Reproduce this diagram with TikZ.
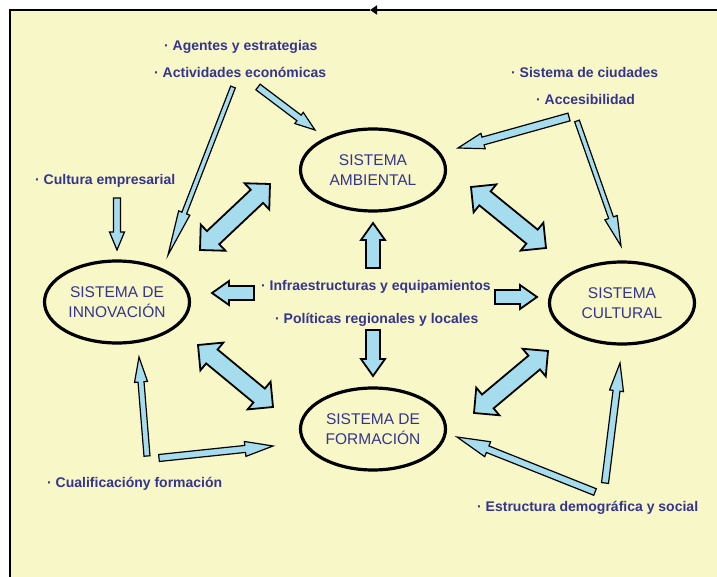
\documentclass[tikz,border=0pt]{standalone}
\usepackage{fontspec}
\setmainfont{Liberation Sans}
\usetikzlibrary{calc,arrows.meta,shapes.geometric}
\definecolor{fondo}{HTML}{F8F7C8}
\definecolor{flecha}{HTML}{A6DDEE}
\definecolor{texto}{HTML}{35358E}
\tikzset{
  sistema/.style={ellipse,draw=black,line width=3.2pt,minimum width=145,minimum height=82,
    inner sep=0pt,align=center,text=texto,font=\fontsize{15.5}{20}\selectfont},
  rotulo/.style={anchor=west,inner sep=0pt,text=texto,font=\bfseries\fontsize{14}{16}\selectfont},
  bloque/.style={fill=flecha,draw=black,line width=1.8pt,line join=miter},
  fina/.style={fill=flecha,draw=black,line width=1.2pt,line join=miter}
}
% #1 style, #2 from, #3 to, #4 shaft half width, #5 head half width, #6 head length
\newcommand{\flecha}[6]{
  \coordinate (hb) at ($(#3)!#6!(#2)$);
  \path[#1] ($(#2)!#4!90:(#3)$) -- ($(hb)!#4!-90:(#2)$) -- ($(hb)!#5!-90:(#2)$) -- (#3)
    -- ($(hb)!#5!90:(#2)$) -- ($(hb)!#4!90:(#2)$) -- ($(#2)!#4!-90:(#3)$) -- cycle;
}
\newcommand{\dobleflecha}[6]{
  \coordinate (ha) at ($(#2)!#6!(#3)$);
  \coordinate (hb) at ($(#3)!#6!(#2)$);
  \path[#1] (#2) -- ($(ha)!#5!90:(#3)$) -- ($(ha)!#4!90:(#3)$) -- ($(hb)!#4!-90:(#2)$)
    -- ($(hb)!#5!-90:(#2)$) -- (#3) -- ($(hb)!#5!90:(#2)$) -- ($(hb)!#4!90:(#2)$)
    -- ($(ha)!#4!-90:(#3)$) -- ($(ha)!#5!-90:(#3)$) -- cycle;
}

\begin{document}
\begin{tikzpicture}[x=1pt,y=-1pt]
  \useasboundingbox (0,0) rectangle (717,577);
  \fill[white] (0,0) rectangle (717,577);
  \fill[fondo] (10,10) rectangle (717,577);
  % marco
  \coordinate (m0) at (10,577);
  \coordinate (m1) at (10,10);
  \coordinate (m2) at (370,10);
  \coordinate (m3) at (717,10);
  \draw[line width=2pt] (m0) -- (m1) -- (m2);
  \draw[line width=2pt,-{Triangle[length=7pt,width=9pt]}] (m3) -- (m2);

  % sistemas
  \node[sistema] (amb) at (373,170) {SISTEMA\\AMBIENTAL};
  \node[sistema] (inn) at (117,302) {SISTEMA DE\\INNOVACIÓN};
  \node[sistema] (cul) at (622,303) {SISTEMA\\CULTURAL};
  \node[sistema] (for) at (373,429) {SISTEMA DE\\FORMACIÓN};

  % rotulos
  \node[rotulo] (ag) at (164,47) {· Agentes y estrategias};
  \node[rotulo] (ac) at (154,72) {· Actividades económicas};
  \node[rotulo] (ci) at (511,72) {· Sistema de ciudades};
  \node[rotulo] (ab) at (536,99) {· Accesibilidad};
  \node[rotulo] (ce) at (35,181) {· Cultura empresarial};
  \node[rotulo] (ie) at (261,287) {· Infraestructuras y equipamientos};
  \node[rotulo] (pr) at (275,320) {· Políticas regionales y locales};
  \node[rotulo] (cf) at (47,484) {· Cualificacióny formación};
  \node[rotulo] (ed) at (477,508) {· Estructura demográfica y social};

  % extremos de las flechas
  \coordinate (d1a) at (200,250); \coordinate (d1b) at (270,184);
  \coordinate (d2a) at (471,187); \coordinate (d2b) at (546,248);
  \coordinate (d3a) at (198,345); \coordinate (d3b) at (273,407);
  \coordinate (d4a) at (474,413); \coordinate (d4b) at (548,351);
  \coordinate (s1a) at (254,293); \coordinate (s1b) at (212,293);
  \coordinate (s2a) at (495,297); \coordinate (s2b) at (537,297);
  \coordinate (s3a) at (373,268); \coordinate (s3b) at (373,223);
  \coordinate (s4a) at (373,330); \coordinate (s4b) at (373,376);
  \coordinate (f1a) at (233,87);  \coordinate (f1b) at (168,255);
  \coordinate (f2a) at (258,87);  \coordinate (f2b) at (315,130);
  \coordinate (f3a) at (117,198); \coordinate (f3b) at (117,250);
  \coordinate (f4a) at (569,117); \coordinate (f4b) at (458,148);
  \coordinate (f5a) at (577,121); \coordinate (f5b) at (621,246);
  \coordinate (f6a) at (147,456); \coordinate (f6b) at (139,357);
  \coordinate (f7a) at (159,458); \coordinate (f7b) at (273,446);
  \coordinate (f8a) at (595,492); \coordinate (f8b) at (457,437);
  \coordinate (f9a) at (605,483); \coordinate (f9b) at (620,363);

  \dobleflecha{bloque}{d1a}{d1b}{9pt}{18pt}{18pt}
  \dobleflecha{bloque}{d2a}{d2b}{9pt}{18pt}{18pt}
  \dobleflecha{bloque}{d3a}{d3b}{9pt}{18pt}{18pt}
  \dobleflecha{bloque}{d4a}{d4b}{9pt}{18pt}{18pt}
  \flecha{bloque}{s1a}{s1b}{7pt}{12pt}{17pt}
  \flecha{bloque}{s2a}{s2b}{7pt}{12pt}{17pt}
  \flecha{bloque}{s3a}{s3b}{7pt}{12pt}{17pt}
  \flecha{bloque}{s4a}{s4b}{7pt}{12pt}{17pt}
  \flecha{fina}{f1a}{f1b}{2.5pt}{6pt}{45pt}
  \flecha{fina}{f2a}{f2b}{3.5pt}{7pt}{20pt}
  \flecha{fina}{f3a}{f3b}{3.5pt}{7.5pt}{18pt}
  \flecha{fina}{f4a}{f4b}{4pt}{8pt}{26pt}
  \flecha{fina}{f5a}{f5b}{2.5pt}{6.5pt}{30pt}
  \flecha{fina}{f6a}{f6b}{3pt}{6.5pt}{25pt}
  \flecha{fina}{f7a}{f7b}{3.5pt}{7.5pt}{28pt}
  \flecha{fina}{f8a}{f8b}{3.5pt}{8pt}{33pt}
  \flecha{fina}{f9a}{f9b}{3.5pt}{7pt}{28pt}
\end{tikzpicture}
\end{document}
